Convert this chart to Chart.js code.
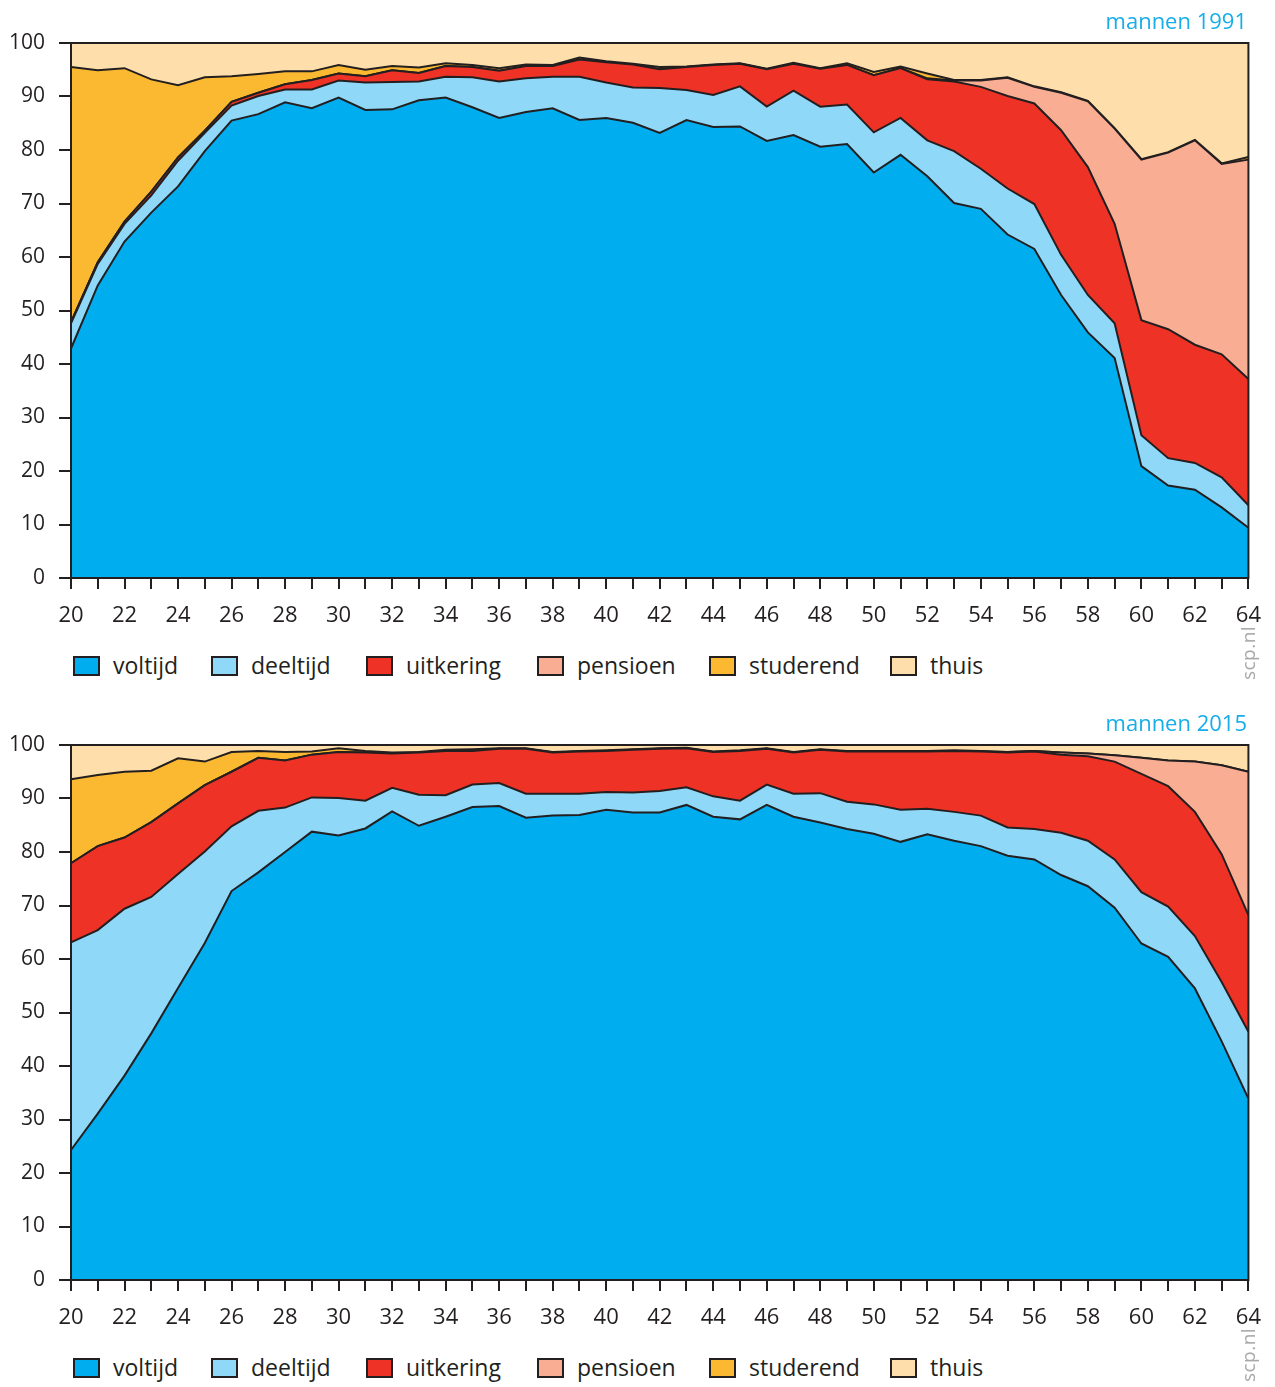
<!DOCTYPE html>
<html>
<head>
<meta charset="utf-8">
<script src="https://cdn.jsdelivr.net/npm/chart.js@4.4.1/dist/chart.umd.min.js"></script>
<style>
  body { margin: 0; background: #fff; font-family: "Open Sans", sans-serif; color: #231f20; }
  .panel { position: relative; width: 1275px; height: 702px; }
  .panel canvas { position: absolute; left: 0; top: 0; }
  .title { position: absolute; right: 28px; top: 5px; font-size: 22px; color: #16ade9; }
  .legend { position: absolute; top: 655px; left: 0; height: 24px; }
  .item { position: absolute; top: 0; white-space: nowrap; font-size: 23px; line-height: 22px; }
  .item span.box { position: absolute; left: 0; top: 1px; width: 23px; height: 16px; border: 2px solid #231f20; }
  .item span.lbl { position: absolute; left: 40px; top: -1px; }
  .scp { position: absolute; left: 1208px; top: 640px; width: 80px; text-align: center; font-size: 19px;
         color: #a8a8a8; transform: rotate(-90deg); letter-spacing: 0.5px; }
</style>
</head>
<body>
<div class="panel" id="p1991">
  <canvas id="chart1991" width="1275" height="640"></canvas>
  <div class="title">mannen 1991</div>
  <div class="legend"></div>
  <div class="scp">scp.nl</div>
</div>
<div class="panel" id="p2015">
  <canvas id="chart2015" width="1275" height="640"></canvas>
  <div class="title">mannen 2015</div>
  <div class="legend"></div>
  <div class="scp">scp.nl</div>
</div>
<script>
const ages = [20, 21, 22, 23, 24, 25, 26, 27, 28, 29, 30, 31, 32, 33, 34, 35, 36, 37, 38, 39, 40, 41, 42,
              43, 44, 45, 46, 47, 48, 49, 50, 51, 52, 53, 54, 55, 56, 57, 58, 59, 60, 61, 62, 63, 64];

const seriesNames = ['voltijd', 'deeltijd', 'uitkering', 'pensioen', 'studerend', 'thuis'];
const seriesColors = ['#00adee', '#8fd8f8', '#ee3226', '#f9ae93', '#fbb931', '#fedfab'];
const yTicks = [0, 10, 20, 30, 40, 50, 60, 70, 80, 90, 100];

// mannen 1991 (%)
const voltijd1991 = [42.9, 54.7, 62.9, 68.3, 73.2, 79.8, 85.5, 86.7, 88.9, 87.8, 89.8, 87.5, 87.6, 89.3, 89.8,
  88.0, 86.0, 87.1, 87.8, 85.6, 86.0, 85.1, 83.2, 85.6, 84.3, 84.4, 81.7, 82.8, 80.6, 81.1, 75.8, 79.1, 75.1,
  70.1, 69.0, 64.2, 61.5, 52.9, 45.9, 41.1, 20.9, 17.3, 16.5, 13.2, 9.4];
const deeltijd1991 = [4.7, 4.0, 3.3, 3.2, 4.8, 3.4, 2.8, 3.4, 2.4, 3.5, 3.2, 5.1, 5.1, 3.5, 3.9,
  5.6, 6.8, 6.3, 5.9, 8.1, 6.6, 6.6, 8.4, 5.6, 6.0, 7.5, 6.4, 8.3, 7.5, 7.4, 7.5, 6.9, 6.7,
  9.7, 7.5, 8.6, 8.4, 7.5, 7.0, 6.5, 5.8, 5.1, 5.0, 5.6, 4.2];
const uitkering1991 = [0.2, 0.3, 0.4, 0.7, 0.6, 0.4, 0.7, 0.6, 1.0, 1.8, 1.3, 1.2, 2.2, 1.6, 2.0,
  1.9, 2.0, 2.3, 2.0, 3.2, 3.8, 4.3, 3.5, 4.3, 5.6, 4.2, 7.0, 5.0, 7.1, 7.4, 10.7, 9.3, 11.4,
  13.0, 15.3, 17.3, 18.8, 23.3, 23.9, 18.6, 21.5, 24.1, 22.1, 23.0, 23.6];
const pensioen1991 = [0, 0, 0, 0, 0, 0, 0, 0, 0, 0, 0, 0, 0, 0, 0,
  0, 0, 0, 0, 0, 0, 0, 0, 0, 0, 0, 0, 0, 0, 0, 0, 0, 0.2,
  0.2, 1.2, 3.4, 3.1, 7.0, 12.3, 17.8, 30.0, 33.0, 38.2, 35.6, 41.0];
const studerend1991 = [47.7, 35.9, 28.7, 21.0, 13.5, 10.0, 4.8, 3.5, 2.4, 1.6, 1.6, 1.2, 0.8, 1.0, 0.5,
  0.4, 0.5, 0.3, 0.2, 0.4, 0.2, 0.1, 0.4, 0.1, 0.1, 0.1, 0.1, 0.2, 0.1, 0.3, 0.6, 0.3, 0.9,
  0.1, 0.1, 0.1, 0.1, 0.1, 0.1, 0.1, 0.1, 0.1, 0.1, 0.1, 0.5];
const thuis1991 = [4.5, 5.1, 4.7, 6.8, 7.9, 6.4, 6.2, 5.8, 5.3, 5.3, 4.1, 5.0, 4.3, 4.6, 3.8,
  4.1, 4.7, 4.0, 4.1, 2.7, 3.4, 3.9, 4.5, 4.4, 4.0, 3.8, 4.8, 3.7, 4.7, 3.8, 5.4, 4.4, 5.7,
  6.9, 6.9, 6.4, 8.1, 9.2, 10.8, 15.9, 21.7, 20.4, 18.1, 22.5, 21.3];

// mannen 2015 (%)
const voltijd2015 = [24.3, 31.1, 38.2, 46.1, 54.6, 63.0, 72.7, 76.2, 80.0, 83.8, 83.1, 84.4, 87.6, 84.9, 86.6,
  88.4, 88.6, 86.4, 86.8, 86.9, 87.9, 87.4, 87.4, 88.8, 86.6, 86.1, 88.8, 86.6, 85.5, 84.3, 83.4, 81.9, 83.3,
  82.1, 81.1, 79.3, 78.6, 75.7, 73.6, 69.6, 62.9, 60.4, 54.5, 44.6, 33.9];
const deeltijd2015 = [38.8, 34.3, 31.2, 25.5, 21.3, 17.1, 12.1, 11.5, 8.3, 6.4, 7.0, 5.2, 4.4, 5.8, 4.0,
  4.2, 4.3, 4.5, 4.1, 4.0, 3.3, 3.7, 4.0, 3.3, 3.8, 3.5, 3.8, 4.3, 5.5, 5.1, 5.5, 6.0, 4.8,
  5.4, 5.7, 5.3, 5.7, 7.9, 8.5, 9.0, 9.6, 9.4, 9.8, 11.1, 12.5];
const uitkering2015 = [14.8, 15.7, 13.3, 14.0, 13.2, 12.4, 10.2, 9.9, 8.8, 8.0, 8.6, 9.0, 6.4, 7.9, 8.3,
  6.3, 6.4, 8.4, 7.7, 7.9, 7.7, 8.0, 7.9, 7.3, 8.3, 9.3, 6.7, 7.7, 8.1, 9.4, 9.9, 10.9, 10.7,
  11.4, 12.0, 14.0, 14.5, 14.6, 15.8, 18.3, 22.1, 22.5, 23.2, 23.9, 21.8];
const pensioen2015 = [0, 0, 0, 0, 0, 0, 0, 0, 0, 0, 0, 0, 0, 0, 0,
  0, 0, 0, 0, 0, 0, 0, 0, 0, 0, 0, 0, 0, 0, 0, 0, 0, 0,
  0, 0, 0.1, 0.1, 0.4, 0.5, 1.2, 3.0, 4.8, 9.4, 16.6, 26.8];
const studerend2015 = [15.7, 13.3, 12.3, 9.6, 8.4, 4.4, 3.7, 1.3, 1.6, 0.6, 0.7, 0.3, 0.2, 0.1, 0.2,
  0.3, 0.1, 0.1, 0.1, 0.1, 0.1, 0.1, 0.1, 0.1, 0.1, 0.1, 0.1, 0.1, 0.1, 0.1, 0.1, 0.1, 0.1,
  0.1, 0.1, 0, 0, 0, 0, 0, 0, 0, 0, 0, 0];
const thuis2015 = [6.4, 5.6, 5.0, 4.8, 2.5, 3.1, 1.3, 1.1, 1.3, 1.2, 0.6, 1.1, 1.4, 1.3, 0.9,
  0.8, 0.6, 0.6, 1.3, 1.1, 1.0, 0.8, 0.6, 0.5, 1.2, 1.0, 0.6, 1.3, 0.8, 1.1, 1.1, 1.1, 1.1,
  1.0, 1.1, 1.3, 1.1, 1.4, 1.6, 1.9, 2.4, 2.9, 3.1, 3.8, 5.0];

const ink = '#231f20';

// draws the box around the plot area
const framePlugin = {
  id: 'frame',
  afterDatasetsDraw(chart) {
    const a = chart.chartArea, ctx = chart.ctx;
    ctx.save();
    ctx.strokeStyle = ink;
    ctx.lineWidth = 2;
    ctx.strokeRect(a.left, a.top, a.right - a.left, a.bottom - a.top);
    ctx.restore();
  }
};

function makeChart(id, series) {
  new Chart(document.getElementById(id), {
    type: 'line',
    data: {
      labels: ages,
      datasets: series.map((data, i) => ({
        label: seriesNames[i],
        data: data,
        backgroundColor: seriesColors[i],
        borderColor: ink,
        borderWidth: 2,
        pointRadius: 0,
        tension: 0,
        fill: i === 0 ? 'origin' : '-1'
      }))
    },
    options: {
      responsive: false,
      animation: false,
      devicePixelRatio: 1,
      layout: { padding: { top: 43, right: 26, left: 0, bottom: 0 } },
      plugins: { legend: { display: false }, tooltip: { enabled: false } },
      scales: {
        x: {
          type: 'category',
          offset: false,
          grid: { drawOnChartArea: false, drawTicks: true, tickLength: 11, color: ink, lineWidth: 2 },
          border: { display: true, color: ink, width: 2 },
          ticks: {
            autoSkip: false, maxRotation: 0, padding: 14, color: ink,
            font: { family: 'Open Sans', size: 22 },
            callback: (val, idx) => ages[idx] % 2 === 0 ? String(ages[idx]) : ''
          },
          afterFit: (scale) => { scale.height = 62; }
        },
        y: {
          stacked: true,
          min: 0, max: 100,
          afterBuildTicks: (scale) => { scale.ticks = yTicks.map(v => ({ value: v })); },
          grid: { drawOnChartArea: false, drawTicks: true, tickLength: 12, color: ink, lineWidth: 2 },
          border: { display: true, color: ink, width: 2 },
          ticks: { padding: 14, color: ink, font: { family: 'Open Sans', size: 21 } },
          afterFit: (scale) => { scale.width = 71; }
        }
      }
    },
    plugins: [framePlugin]
  });
}

function makeLegend(panelId) {
  const lefts = [73, 211, 366, 537, 709, 890];
  const box = document.querySelector('#' + panelId + ' .legend');
  seriesNames.forEach((name, i) => {
    const item = document.createElement('div');
    item.className = 'item';
    item.style.left = lefts[i] + 'px';
    item.innerHTML = '<span class="box" style="background:' + seriesColors[i] + '"></span><span class="lbl">' + name + '</span>';
    box.appendChild(item);
  });
}

makeChart('chart1991', [voltijd1991, deeltijd1991, uitkering1991, pensioen1991, studerend1991, thuis1991]);
makeChart('chart2015', [voltijd2015, deeltijd2015, uitkering2015, pensioen2015, studerend2015, thuis2015]);
makeLegend('p1991');
makeLegend('p2015');
</script>
</body>
</html>
